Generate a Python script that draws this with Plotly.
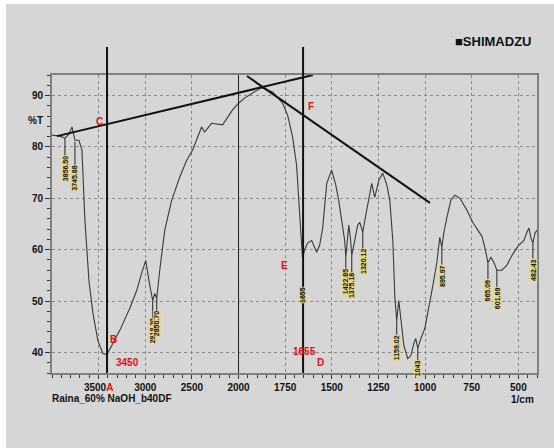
import numpy as np
import plotly.graph_objects as go

# ---- spectrum data ----
wavenumber = [4000, 3914, 3861, 3818, 3786, 3754, 3711, 3679, 3647, 3604, 3561, 3508, 3455, 3412,
              3358, 3273, 3166, 3091, 3037, 2995, 2952, 2920, 2898, 2877, 2845, 2791, 2717, 2631,
              2556, 2492, 2417, 2396, 2364, 2289, 2171, 2064, 2000,
              1968, 1925, 1877, 1817, 1764, 1737, 1710, 1689, 1678, 1667, 1657, 1646, 1630, 1608,
              1581, 1565, 1549, 1527, 1501, 1479, 1463, 1447, 1431, 1425, 1415, 1409, 1399, 1393,
              1377, 1361, 1350, 1340, 1334, 1318, 1297, 1286, 1270, 1248, 1227, 1205, 1189, 1173,
              1162, 1152, 1141, 1130, 1114, 1093, 1076, 1060, 1050, 1039, 1023, 1001, 980, 958,
              937, 921, 910, 899, 883, 862, 840, 813, 776, 744, 717, 695, 679, 663, 647, 631,
              615, 588, 561, 534, 502, 470, 454, 443, 432, 422, 411, 400]
transmittance = [82.3, 82.1, 81.7, 82.5, 83.9, 81.3, 81.3, 79.4, 65.7, 54.0, 47.6, 42.3, 39.8, 39.6,
                 41.4, 44.3, 48.6, 52.1, 55.6, 57.9, 53.1, 50.1, 51.5, 50.5, 56.0, 63.8, 69.6, 74.1,
                 77.4, 79.4, 82.9, 83.9, 82.9, 84.6, 84.3, 87.2, 88.5,
                 89.5, 90.5, 91.5, 90.7, 88.5, 86.2, 81.9, 76.5, 69.6, 62.4, 58.3, 59.9, 61.3, 61.8,
                 59.5, 60.9, 64.2, 72.9, 75.5, 72.6, 69.6, 65.7, 61.8, 58.5, 62.8, 64.8, 61.8, 58.9,
                 61.8, 64.8, 65.3, 64.2, 63.4, 66.7, 71.0, 72.9, 70.2, 73.5, 74.9, 72.6, 69.6, 61.8,
                 50.7, 46.2, 50.1, 46.2, 41.4, 38.8, 39.4, 41.8, 42.7, 40.8, 42.7, 44.7, 49.2, 53.1,
                 57.5, 62.4, 60.5, 63.4, 66.3, 69.6, 70.6, 70.0, 67.7, 65.3, 63.8, 62.6, 60.3, 57.5,
                 58.5, 57.5, 56.0, 56.0, 57.0, 58.9, 60.7, 61.8, 63.4, 64.2, 62.2, 61.3, 63.2, 63.8]

# peak labels: wavenumber, T at tip, text, pixel offset
peak_wn = [3861, 3754, 2920, 2877, 1657, 1425, 1393, 1334, 1152, 1039, 910, 663, 615, 422]
peak_t = [81.7, 81.0, 50.1, 50.5, 58.3, 58.5, 58.9, 63.4, 46.2, 40.8, 60.5, 57.5, 56.0, 61.3]
peak_text = ["3856.50", "3745.88", "2918.30", "2850.70", "1655", "1422.85", "1375.18", "1320.12",
             "1159.02", "1043", "895.97", "665.09", "601.69", "482.43"]
peak_offset = [30, 36, 30, 25, 37, 24, 30, 29, 27, 20, 29, 28, 28, 27]

# red letters
mark_wn = [3486, 3346, 3186, 1756, 1612, 1644, 1558]
mark_t = [85.0, 42.6, 38.1, 57.0, 87.8, 40.1, 38.1]
mark_text = ["C", "B", "3450", "E", "F", "1655", "D"]

# drawn tangent lines (wavenumber, T)
line_c = [(3946, 82.1), (1601, 94.0)]
line_f = [(1955, 93.8), (974, 69.1)]
vertical_wn = [3410, 1654]

tick_wn = [3500, 3000, 2500, 2000, 1750, 1500, 1250, 1000, 750, 500]
tick_text = ["3500<span style='color:#e01010'>A</span>", "3000", "2500", "2000", "1750",
             "1500", "1250", "1000", "750", "500"]


def to_u(wn):
    wn = np.asarray(wn, dtype=float)
    return np.where(wn >= 2000, (4000 - wn) / 2.0, 1000 + (2000 - wn))


BG = "#d6d6d6"
FONT = "Liberation Sans Narrow, Liberation Sans, Arial"

fig = go.Figure()
fig.add_trace(go.Scatter(x=to_u(wavenumber), y=transmittance, mode="lines",
                         line=dict(color="#3a3a3a", width=1.1), showlegend=False,
                         hoverinfo="skip"))

annotations = []
for w, t, txt, off in zip(peak_wn, peak_t, peak_text, peak_offset):
    annotations.append(dict(x=float(to_u(w)), y=t, xref="x", yref="y", text="<b>" + txt + "</b>",
                            textangle=-90, showarrow=True, arrowhead=0, arrowwidth=1,
                            arrowcolor="#222", ax=0, ay=off,
                            font=dict(family=FONT, size=7, color="#111"),
                            bgcolor="rgba(232,214,120,0.75)", borderpad=0))
for w, t, txt in zip(mark_wn, mark_t, mark_text):
    annotations.append(dict(x=float(to_u(w)), y=t, xref="x", yref="y", text="<b>" + txt + "</b>",
                            showarrow=False, xanchor="center", yanchor="middle",
                            font=dict(family=FONT, size=10, color="#e01010")))

annotations += [
    dict(x=-0.033, y=0.846, xref="paper", yref="paper", text="<b>%T</b>", showarrow=False,
         xanchor="center", yanchor="middle",
         font=dict(family=FONT, size=10, color="#111")),
    dict(x=0.909, y=1.111, xref="paper", yref="paper", text="<b>■SHIMADZU</b>", showarrow=False,
         xanchor="center", yanchor="middle",
         font=dict(family="Liberation Sans, Arial", size=13, color="#111")),
    dict(x=-0.004, y=-0.085, xref="paper", yref="paper", xanchor="left", yanchor="middle",
         text="<b>Raina_60% NaOH_b40DF</b>", showarrow=False,
         font=dict(family=FONT, size=10, color="#111")),
    dict(x=0.971, y=-0.089, xref="paper", yref="paper", text="<b>1/cm</b>", showarrow=False,
         xanchor="center", yanchor="middle",
         font=dict(family=FONT, size=10, color="#111")),
]

shapes = []
for seg in (line_c, line_f):
    shapes.append(dict(type="line", xref="x", yref="y",
                       x0=float(to_u(seg[0][0])), y0=seg[0][1],
                       x1=float(to_u(seg[1][0])), y1=seg[1][1],
                       line=dict(color="#111", width=2)))
for w in vertical_wn:
    shapes.append(dict(type="line", xref="x", yref="paper", x0=float(to_u(w)), x1=float(to_u(w)),
                       y0=0.0, y1=1.094, line=dict(color="#111", width=2)))
# break line at 2000
shapes.append(dict(type="line", xref="x", yref="paper", x0=float(to_u(2000)), x1=float(to_u(2000)),
                   y0=0, y1=1, line=dict(color="#222", width=1)))

fig.update_layout(
    width=548, height=444,
    margin=dict(l=46, r=17, t=71, b=75),
    paper_bgcolor=BG, plot_bgcolor=BG,
    annotations=annotations, shapes=shapes,
    xaxis=dict(range=[0, 2600], tickvals=list(to_u(tick_wn)),
               ticktext=["<b>" + t + "</b>" for t in tick_text],
               showgrid=True, gridcolor="#8a8a8a", griddash="dot", gridwidth=1,
               ticks="outside", ticklen=4, tickcolor="#333",
               minor=dict(dtick=50, tick0=0, ticks="outside", ticklen=3, tickcolor="#333",
                          showgrid=False),
               showline=True, linecolor="#808080", linewidth=2, mirror=True, zeroline=False,
               tickfont=dict(family=FONT, size=10, color="#111")),
    yaxis=dict(range=[36, 94], tickvals=[40, 50, 60, 70, 80, 90],
               ticktext=["<b>40</b>", "<b>50</b>", "<b>60</b>", "<b>70</b>", "<b>80</b>", "<b>90</b>"],
               showgrid=True, gridcolor="#8a8a8a", griddash="dot", gridwidth=1,
               ticks="outside", ticklen=5, tickcolor="#333",
               minor=dict(dtick=2, tick0=0, ticks="outside", ticklen=3, tickcolor="#333",
                          showgrid=False),
               showline=True, linecolor="#808080", linewidth=2, mirror=True, zeroline=False,
               tickfont=dict(family=FONT, size=10, color="#111")),
)

fig.write_html("out.html", post_script="document.body.style.margin='4px 0 0 6px';")
